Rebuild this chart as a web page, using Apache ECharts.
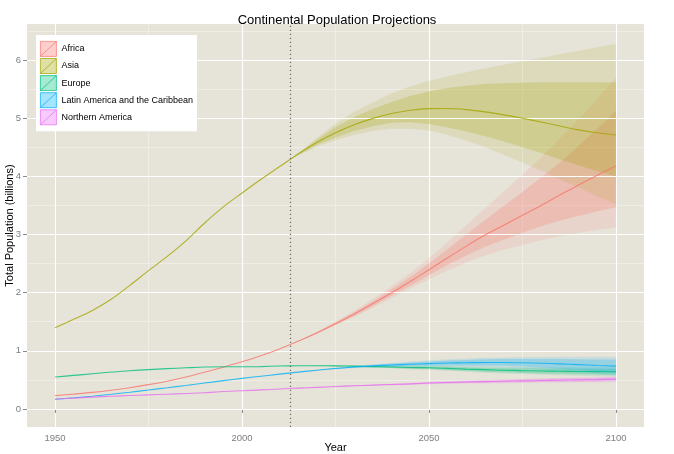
<!DOCTYPE html>
<html>
<head>
<meta charset="utf-8">
<script src="https://cdn.jsdelivr.net/npm/echarts@6/dist/echarts.min.js"></script>
<style>html,body{margin:0;padding:0;background:#fff}#c{width:674px;height:454px}</style>
</head>
<body>
<div id="c"></div>
<script>
// ---------- data ----------
const regions = ['Africa', 'Asia', 'Europe', 'Latin America and the Caribbean', 'Northern America'];
const years = [1950,1955,1960,1965,1970,1975,1980,1985,1990,1995,2000,2005,2010,2015,2020,2025,2030,2035,2040,2045,2050,2055,2060,2065,2070,2075,2080,2085,2090,2095,2100];
const africa   = [0.229,0.255,0.285,0.322,0.366,0.418,0.478,0.549,0.632,0.720,0.811,0.916,1.031,1.166,1.308,1.465,1.634,1.812,1.998,2.193,2.393,2.60,2.80,2.99,3.16,3.33,3.50,3.68,3.85,4.02,4.18];
const asia     = [1.396,1.541,1.694,1.886,2.125,2.379,2.623,2.890,3.198,3.476,3.714,3.945,4.165,4.385,4.582,4.749,4.887,4.997,5.080,5.137,5.164,5.166,5.147,5.109,5.058,4.999,4.934,4.867,4.800,4.750,4.712];
const europe   = [0.549,0.577,0.606,0.635,0.657,0.677,0.694,0.708,0.721,0.727,0.726,0.729,0.738,0.742,0.743,0.741,0.736,0.729,0.721,0.712,0.709,0.698,0.686,0.676,0.667,0.660,0.654,0.649,0.645,0.642,0.639];
const latinAm  = [0.168,0.192,0.220,0.253,0.288,0.326,0.364,0.404,0.446,0.487,0.526,0.563,0.599,0.634,0.667,0.696,0.721,0.741,0.757,0.769,0.780,0.790,0.795,0.800,0.800,0.795,0.787,0.775,0.762,0.748,0.736];
const northAm  = [0.172,0.187,0.204,0.219,0.231,0.242,0.254,0.267,0.280,0.300,0.313,0.328,0.344,0.358,0.372,0.386,0.399,0.410,0.421,0.431,0.446,0.455,0.463,0.470,0.477,0.483,0.489,0.495,0.500,0.505,0.513];

// projection intervals (80% and 95%)
const bandYears = [2013,2020,2025,2030,2035,2040,2045,2050,2055,2060,2065,2070,2075,2080,2085,2090,2095,2100];
const africaLo95 = [1.11,1.29,1.44,1.58,1.74,1.91,2.07,2.23,2.38,2.52,2.64,2.74,2.82,2.90,2.97,3.03,3.08,3.12];
const africaLo80 = [1.11,1.30,1.45,1.60,1.77,1.95,2.12,2.30,2.48,2.64,2.79,2.91,3.03,3.14,3.24,3.32,3.40,3.47];
const africaHi80 = [1.11,1.32,1.49,1.66,1.85,2.06,2.27,2.50,2.75,3.00,3.25,3.49,3.73,3.98,4.24,4.52,4.82,5.13];
const africaHi95 = [1.11,1.33,1.50,1.69,1.89,2.11,2.34,2.59,2.87,3.16,3.45,3.74,4.03,4.33,4.65,4.98,5.33,5.70];
const asiaLo95 = [4.30,4.51,4.62,4.71,4.78,4.82,4.82,4.79,4.71,4.61,4.50,4.37,4.24,4.10,3.95,3.81,3.66,3.52];
const asiaLo80 = [4.30,4.54,4.67,4.78,4.86,4.92,4.93,4.90,4.84,4.77,4.69,4.60,4.50,4.40,4.29,4.19,4.09,4.00];
const asiaHi80 = [4.30,4.63,4.85,5.02,5.16,5.28,5.38,5.46,5.52,5.56,5.59,5.60,5.61,5.62,5.62,5.62,5.62,5.62];
const asiaHi95 = [4.30,4.66,4.91,5.11,5.27,5.43,5.55,5.64,5.72,5.79,5.86,5.92,5.98,6.04,6.10,6.16,6.22,6.28];
const europeLo95 = [0.74,0.740,0.733,0.724,0.712,0.699,0.684,0.676,0.659,0.641,0.625,0.611,0.600,0.589,0.580,0.572,0.565,0.558];
const europeLo80 = [0.74,0.741,0.736,0.728,0.718,0.706,0.693,0.687,0.672,0.656,0.642,0.630,0.620,0.611,0.604,0.598,0.593,0.588];
const europeHi80 = [0.74,0.745,0.746,0.744,0.740,0.736,0.731,0.731,0.724,0.716,0.710,0.704,0.700,0.697,0.694,0.692,0.691,0.690];
const europeHi95 = [0.74,0.746,0.749,0.748,0.746,0.743,0.740,0.742,0.737,0.731,0.727,0.723,0.720,0.719,0.718,0.718,0.719,0.720];
const latinAmLo95 = [0.61,0.662,0.685,0.703,0.715,0.722,0.725,0.724,0.725,0.722,0.720,0.713,0.698,0.679,0.654,0.629,0.600,0.570];
const latinAmLo80 = [0.61,0.664,0.689,0.709,0.724,0.734,0.740,0.743,0.748,0.747,0.747,0.742,0.730,0.714,0.692,0.669,0.644,0.622];
const latinAmHi80 = [0.61,0.670,0.703,0.733,0.758,0.780,0.798,0.817,0.832,0.843,0.853,0.858,0.860,0.860,0.858,0.855,0.852,0.850];
const latinAmHi95 = [0.61,0.672,0.707,0.739,0.767,0.792,0.813,0.836,0.855,0.868,0.880,0.887,0.892,0.895,0.897,0.898,0.899,0.900];
const northAmLo95 = [0.35,0.369,0.380,0.390,0.398,0.406,0.413,0.425,0.431,0.436,0.440,0.444,0.447,0.450,0.453,0.455,0.457,0.461];
const northAmLo80 = [0.35,0.370,0.382,0.393,0.402,0.411,0.419,0.432,0.439,0.445,0.450,0.455,0.459,0.463,0.467,0.470,0.473,0.479];
const northAmHi80 = [0.35,0.374,0.390,0.405,0.418,0.431,0.443,0.460,0.471,0.481,0.490,0.499,0.507,0.515,0.523,0.530,0.537,0.547];
const northAmHi95 = [0.35,0.375,0.392,0.408,0.422,0.436,0.449,0.467,0.479,0.490,0.500,0.510,0.519,0.528,0.537,0.545,0.553,0.565];

const xTicks = [1950, 2000, 2050, 2100];
const xMinorTicks = [1975, 2025, 2075];
const yTicks = [0, 1, 2, 3, 4, 5, 6];
const yMinorTicks = [-0.5, 0.5, 1.5, 2.5, 3.5, 4.5, 5.5, 6.5];
const currentYear = 2013;

// ---------- styling ----------
const colors = ['#F8766D', '#A3A500', '#00BF7D', '#00B0F6', '#E76BF3'];
const lines = [africa, asia, europe, latinAm, northAm];
const bands = [
  [africaLo95, africaLo80, africaHi80, africaHi95],
  [asiaLo95, asiaLo80, asiaHi80, asiaHi95],
  [europeLo95, europeLo80, europeHi80, europeHi95],
  [latinAmLo95, latinAmLo80, latinAmHi80, latinAmHi95],
  [northAmLo95, northAmLo80, northAmHi80, northAmHi95]
];
function rgba(hex, a) {
  const n = parseInt(hex.slice(1), 16);
  return 'rgba(' + (n >> 16 & 255) + ',' + (n >> 8 & 255) + ',' + (n & 255) + ',' + a + ')';
}
const FONT = 'Liberation Sans, Arial, sans-serif';

function bandSeries(idx, lo, hi, alpha, name) {
  return {
    type: 'custom',
    name: name,
    xAxisIndex: 0, yAxisIndex: 0,
    silent: true,
    clip: true,
    data: [[bandYears[0], lo[0]]],
    encode: { x: 0, y: 1 },
    z: 1,
    renderItem: function (params, api) {
      const pts = [];
      for (let i = 0; i < bandYears.length; i++) pts.push(api.coord([bandYears[i], hi[i]]));
      for (let i = bandYears.length - 1; i >= 0; i--) pts.push(api.coord([bandYears[i], lo[i]]));
      return { type: 'polygon', shape: { points: pts }, style: { fill: rgba(colors[idx], alpha), stroke: null } };
    }
  };
}

const series = [];
regions.forEach(function (r, i) {
  series.push(bandSeries(i, bands[i][0], bands[i][3], 0.13, r + ' 95%'));
  series.push(bandSeries(i, bands[i][1], bands[i][2], 0.24, r + ' 80%'));
});
regions.forEach(function (r, i) {
  series.push({
    type: 'line', name: r, xAxisIndex: 0, yAxisIndex: 0,
    data: years.map(function (y, k) { return [y, lines[i][k]]; }),
    smooth: 0.3, showSymbol: false, symbol: 'none',
    lineStyle: { color: colors[i], width: 1.1, opacity: 0.8 },
    itemStyle: { color: colors[i] },
    z: 3,
    markLine: i === 0 ? {
      silent: true, symbol: 'none', label: { show: false },
      lineStyle: { color: '#555', type: [1.2, 2.8], width: 1.2, opacity: 0.9 },
      data: [{ xAxis: currentYear }]
    } : undefined
  });
});

const legendIcon = 'path://M0,0L16,0L16,15L0,15Z M0,15L16,0';

const option = {
  animation: false,
  backgroundColor: '#ffffff',
  title: {
    text: 'Continental Population Projections',
    left: 'center', top: 9,
    textStyle: { fontFamily: FONT, fontSize: 13, fontWeight: 'normal', color: '#000' }
  },
  legend: {
    orient: 'vertical', left: 36, top: 35,
    backgroundColor: '#ffffff', padding: [6, 4, 6, 4],
    itemWidth: 16, itemHeight: 15, itemGap: 1.3,
    textStyle: { fontFamily: FONT, fontSize: 9, color: '#000' },
    data: regions.map(function (r, i) {
      return { name: r, icon: legendIcon, itemStyle: { color: rgba(colors[i], 0.35), borderColor: rgba(colors[i], 0.9), borderWidth: 0.8 } };
    })
  },
  grid: { left: 27, right: 30, top: 24, bottom: 27, show: true, backgroundColor: '#E6E3D8', borderWidth: 0, containLabel: false, outerBoundsMode: 'none' },
  xAxis: [{
    type: 'value', min: 1942.5, max: 2107.5,
    name: 'Year', nameLocation: 'middle', nameGap: 15, nameMoveOverlap: false,
    nameTextStyle: { fontFamily: FONT, fontSize: 11, color: '#000', verticalAlign: 'top' },
    axisLine: { show: false },
    axisTick: { show: true, length: 4, lineStyle: { color: '#8a8a8a' }, customValues: xTicks },
    axisLabel: { fontFamily: FONT, fontSize: 9.5, color: '#7f7f7f', margin: 6, customValues: xTicks, formatter: function (v) { return String(v); } },
    splitLine: { show: true, lineStyle: { color: '#ffffff', width: 1.1 } }
  }, {
    type: 'value', min: 1942.5, max: 2107.5, position: 'bottom',
    axisLine: { show: false }, axisLabel: { show: false },
    axisTick: { show: false, customValues: xMinorTicks },
    splitLine: { show: true, lineStyle: { color: '#EFEDE6', width: 1 } }
  }],
  yAxis: [{
    type: 'value', min: -0.31, max: 6.62,
    name: 'Total Population (billions)', nameLocation: 'middle', nameGap: 12, nameMoveOverlap: false,
    nameTextStyle: { fontFamily: FONT, fontSize: 11, color: '#000' },
    axisLine: { show: false },
    axisTick: { show: true, length: 4, lineStyle: { color: '#8a8a8a' }, customValues: yTicks },
    axisLabel: { fontFamily: FONT, fontSize: 9.5, color: '#7f7f7f', margin: 6, customValues: yTicks, formatter: function (v) { return String(v); } },
    splitLine: { show: true, lineStyle: { color: '#ffffff', width: 1.1 } },
    z: 2
  }, {
    type: 'value', min: -0.31, max: 6.62, position: 'left',
    axisLine: { show: false }, axisLabel: { show: false },
    axisTick: { show: false, customValues: yMinorTicks },
    splitLine: { show: true, lineStyle: { color: '#EFEDE6', width: 1 } }
  }],
  series: series
};

const chart = echarts.init(document.getElementById('c'), null, { renderer: 'canvas' });
chart.setOption(option);
</script>
</body>
</html>
